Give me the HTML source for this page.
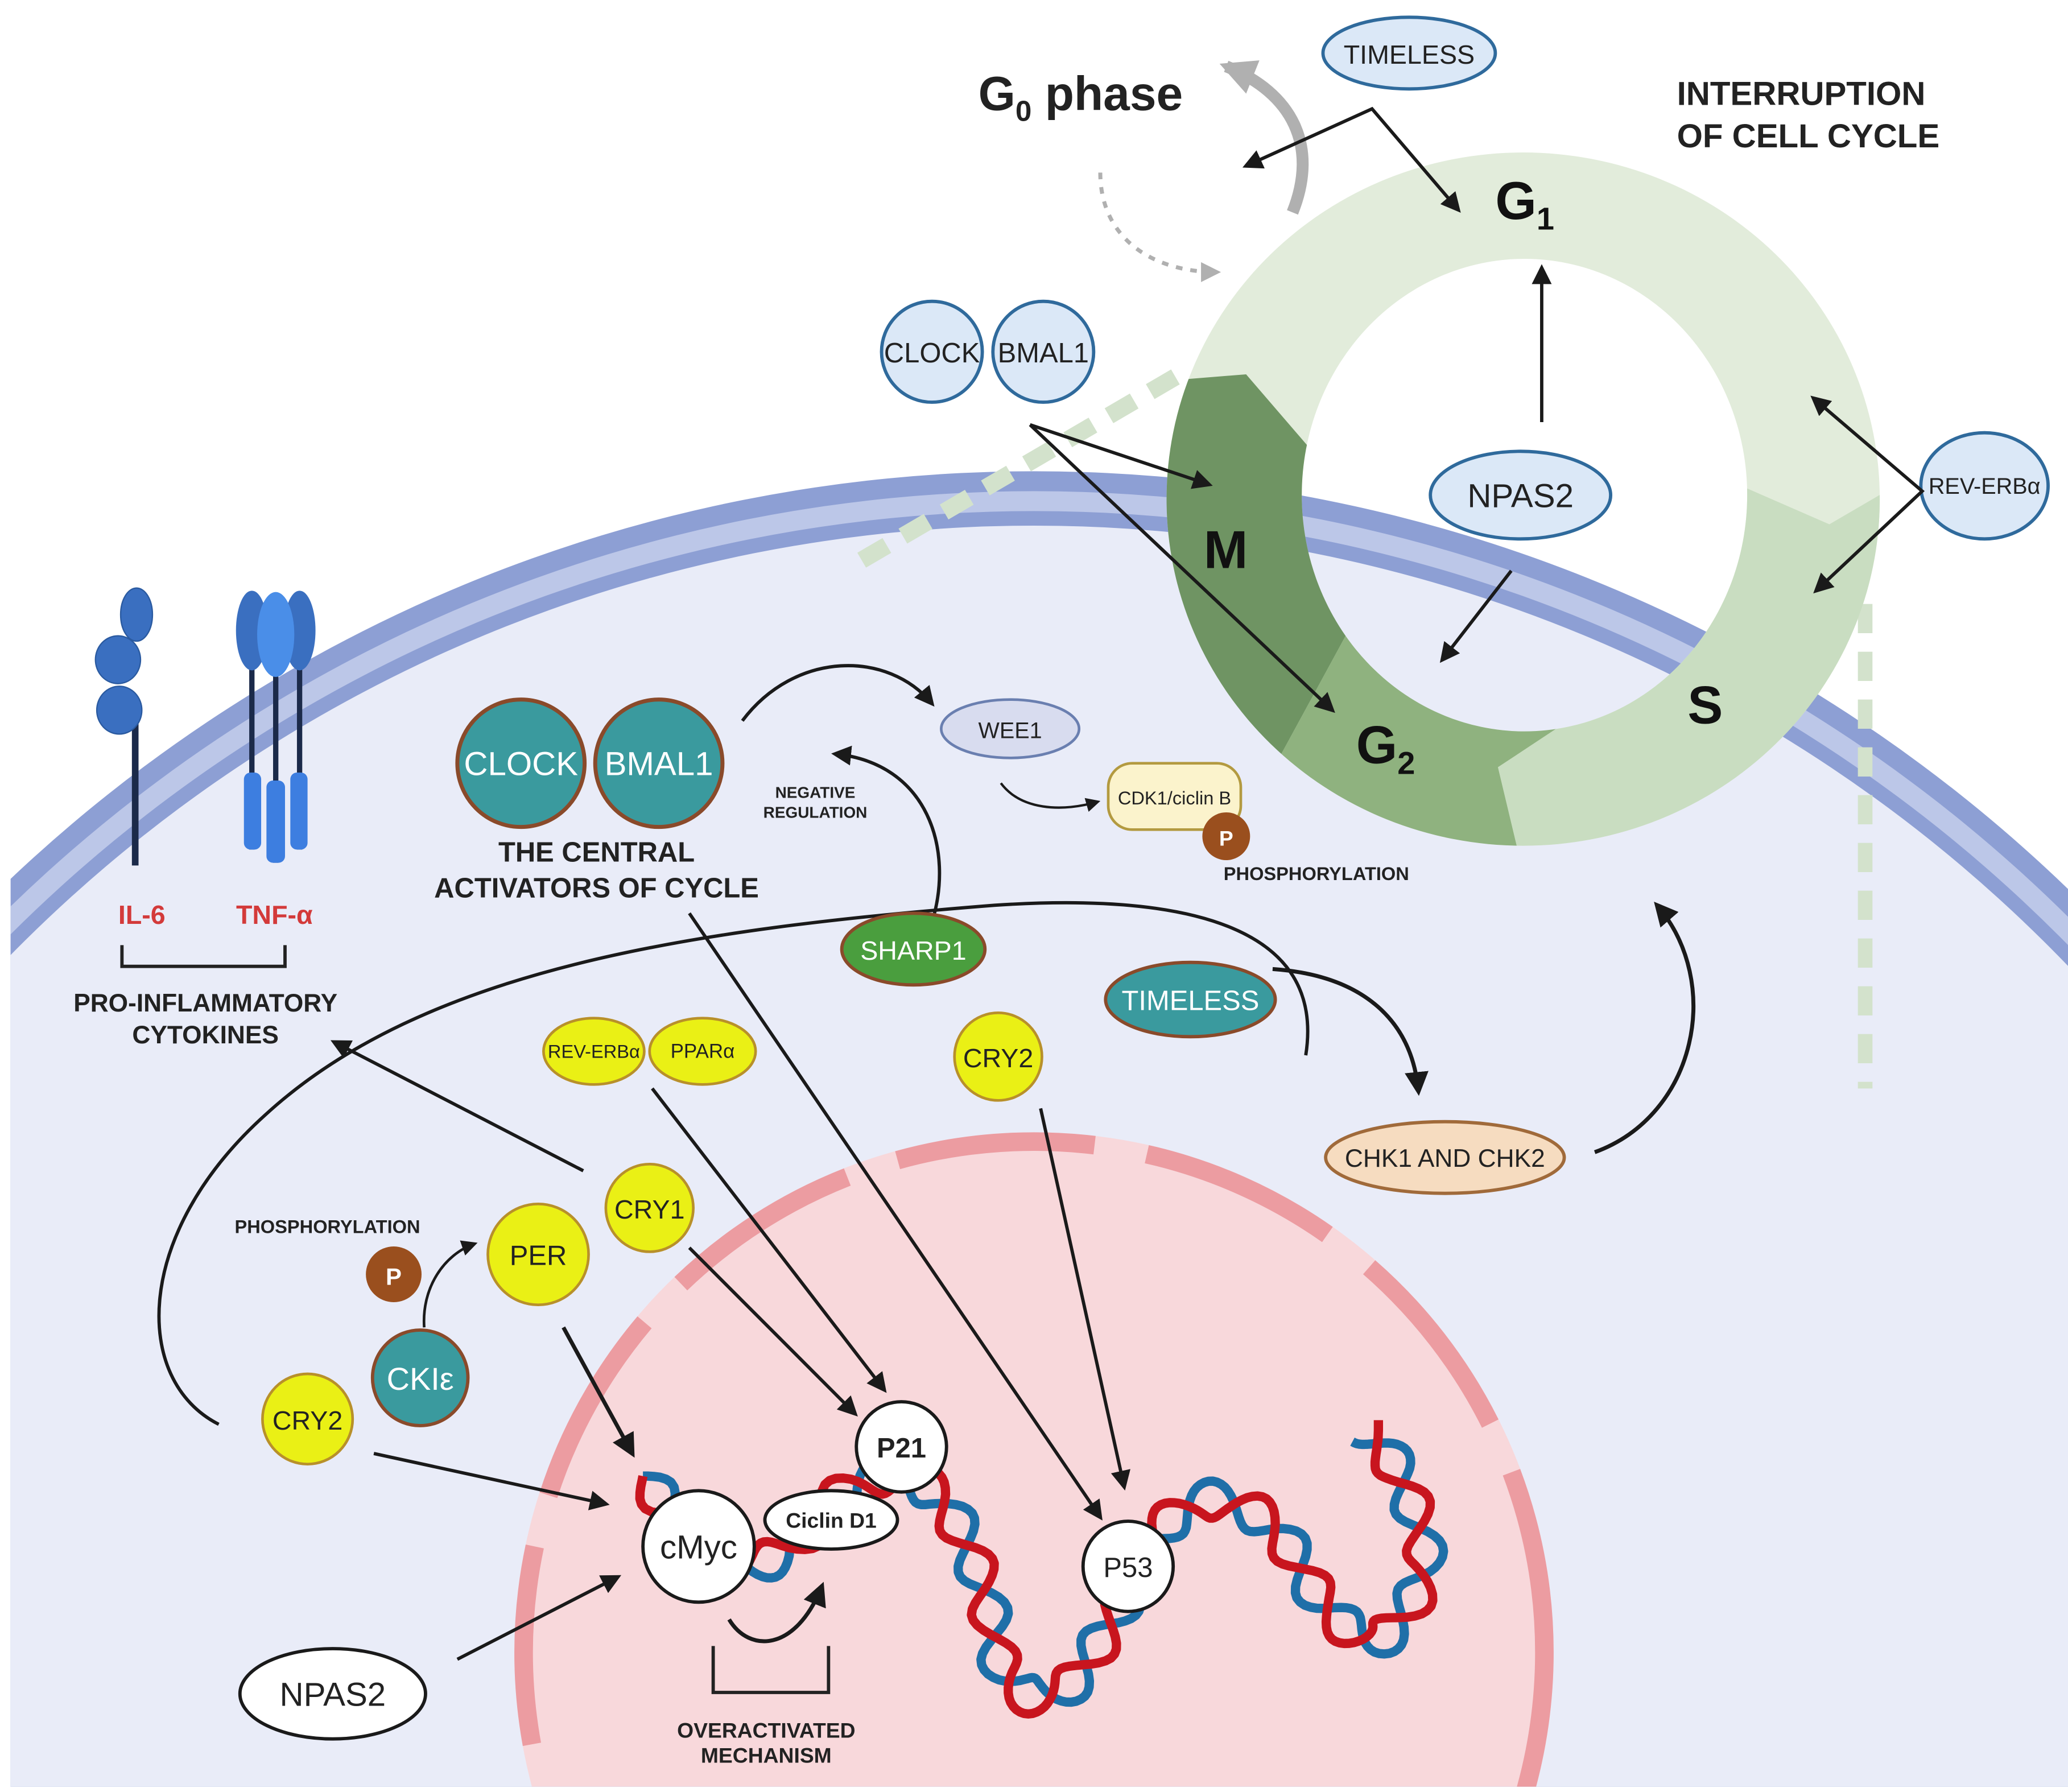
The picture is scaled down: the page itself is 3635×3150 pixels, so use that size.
<!DOCTYPE html>
<html><head><meta charset="utf-8"><style>
html,body{margin:0;padding:0;background:#fff;width:3635px;height:3150px;overflow:hidden;}
svg{display:block;}
text{font-family:"Liberation Sans",sans-serif;}
</style></head><body>
<svg id="s" width="3635" height="3150" viewBox="0 0 1560 1350" preserveAspectRatio="none" xmlns="http://www.w3.org/2000/svg">
<defs>
<marker id="a" viewBox="0 0 10 10" refX="8" refY="5" markerWidth="6" markerHeight="6" orient="auto-start-reverse"><path d="M0,0 L10,5 L0,10 z" fill="#1a1a1a"/></marker>
<marker id="ag" viewBox="0 0 10 10" refX="8" refY="5" markerWidth="3" markerHeight="3" orient="auto"><path d="M0,0 L10,5 L0,10 z" fill="#b0b0b0"/></marker>
<marker id="ag2" viewBox="0 0 10 10" refX="8" refY="5" markerWidth="5" markerHeight="5" orient="auto"><path d="M0,0 L10,5 L0,10 z" fill="#b0b0b0"/></marker>
<clipPath id="ring"><path clip-rule="evenodd" d="M880,376 a269,261 0 1,0 538,0 a269,261 0 1,0 -538,0 Z M982,373 a168,178 0 1,0 336,0 a168,178 0 1,0 -336,0 Z"/></clipPath>
<clipPath id="pg"><rect x="8" y="0" width="1552" height="1346"/></clipPath>
</defs>
<rect width="1560" height="1350" fill="#fff"/>
<g clip-path="url(#pg)">
<circle cx="780" cy="1479" r="1124" fill="#8d9fd4"/>
<circle cx="780" cy="1479" r="1109" fill="#bcc7e8"/>
<circle cx="780" cy="1479" r="1094" fill="#8d9fd4"/>
<circle cx="780" cy="1479" r="1083" fill="#e9ecf8"/>
<circle cx="780" cy="1245" r="392" fill="#f8d8db"/>
<circle cx="780" cy="1245" r="385" fill="none" stroke="#ec9ca1" stroke-width="14" stroke-dasharray="150,40"/>
</g>
<line x1="650" y1="422" x2="890" y2="282" stroke="#d3e2cc" stroke-width="13" stroke-dasharray="22,14"/>
<line x1="1407" y1="455" x2="1407" y2="820" stroke="#d3e2cc" stroke-width="11" stroke-dasharray="22,14"/>
<g clip-path="url(#ring)">
<rect x="870" y="100" width="560" height="560" fill="#e2ecdb"/>
<polygon points="840,290 940,282 990,340 1020,470 960,580 840,620" fill="#6f9463"/>
<polygon points="960,580 1020,470 1110,470 1180,545 1130,578 1152,670 940,670" fill="#8fb27f"/>
<polygon points="1130,578 1180,545 1300,385 1318,368 1380,395 1440,360 1440,670 1152,670" fill="#c9ddc1"/>
</g>
<text x="738" y="83" font-size="36" font-weight="bold" fill="#222">G<tspan font-size="22" dy="8">0</tspan><tspan dy="-8"> phase</tspan></text>
<path d="M975,160 C995,110 975,70 925,50" fill="none" stroke="#b0b0b0" stroke-width="9" marker-end="url(#ag)"/>
<path d="M830,130 C830,180 870,205 918,205" fill="none" stroke="#b0b0b0" stroke-width="3" stroke-dasharray="5,6" marker-end="url(#ag2)"/>
<ellipse cx="1063" cy="40" rx="65" ry="27" fill="#dbe8f7" stroke="#2f6a9c" stroke-width="2.5"/>
<text x="1063" y="48" font-size="20" text-anchor="middle" fill="#222">TIMELESS</text>
<path d="M940,125 L1035,82 L1100,158" fill="none" stroke="#1a1a1a" stroke-width="2.5" marker-start="url(#a)" marker-end="url(#a)"/>
<text x="1265" y="79" font-size="25" font-weight="bold" fill="#222">INTERRUPTION</text>
<text x="1265" y="111" font-size="25" font-weight="bold" fill="#222">OF CELL CYCLE</text>
<text x="1128" y="165" font-size="40" font-weight="bold" fill="#111">G<tspan font-size="24" dy="8">1</tspan></text>
<text x="908" y="428" font-size="40" font-weight="bold" fill="#111">M</text>
<text x="1023" y="575" font-size="40" font-weight="bold" fill="#111">G<tspan font-size="24" dy="8">2</tspan></text>
<text x="1273" y="545" font-size="40" font-weight="bold" fill="#111">S</text>
<circle cx="703" cy="265" r="38" fill="#dbe8f7" stroke="#2f6a9c" stroke-width="2.5"/>
<circle cx="787" cy="265" r="38" fill="#dbe8f7" stroke="#2f6a9c" stroke-width="2.5"/>
<text x="703" y="273" font-size="21" text-anchor="middle" fill="#222">CLOCK</text>
<text x="787" y="273" font-size="21" text-anchor="middle" fill="#222">BMAL1</text>
<line x1="777" y1="320" x2="912" y2="365" stroke="#1a1a1a" stroke-width="2.5" marker-end="url(#a)"/>
<line x1="777" y1="320" x2="1005" y2="535" stroke="#1a1a1a" stroke-width="2.5" marker-end="url(#a)"/>
<ellipse cx="1147" cy="373" rx="68" ry="33" fill="#dbe8f7" stroke="#2f6a9c" stroke-width="2.5"/>
<text x="1147" y="382" font-size="25" text-anchor="middle" fill="#222">NPAS2</text>
<line x1="1163" y1="318" x2="1163" y2="202" stroke="#1a1a1a" stroke-width="2.5" marker-end="url(#a)"/>
<line x1="1140" y1="430" x2="1088" y2="497" stroke="#1a1a1a" stroke-width="2.5" marker-end="url(#a)"/>
<ellipse cx="1497" cy="366" rx="48" ry="40" fill="#dbe8f7" stroke="#2f6a9c" stroke-width="2.5"/>
<text x="1497" y="372" font-size="17" text-anchor="middle" fill="#222">REV-ERBα</text>
<path d="M1368,300 L1450,370 L1370,445" fill="none" stroke="#1a1a1a" stroke-width="2.5" marker-start="url(#a)" marker-end="url(#a)"/>
<line x1="102" y1="540" x2="102" y2="652" stroke="#1b2a4a" stroke-width="5"/>
<ellipse cx="103" cy="463" rx="12" ry="20" fill="#3a6fc0" stroke="#2a5aa0"/>
<ellipse cx="89" cy="497" rx="17" ry="18" fill="#3a6fc0" stroke="#2a5aa0"/>
<ellipse cx="90" cy="535" rx="17" ry="18" fill="#3a6fc0" stroke="#2a5aa0"/>
<line x1="190" y1="490" x2="190" y2="640" stroke="#1b2a4a" stroke-width="4"/>
<line x1="208" y1="490" x2="208" y2="650" stroke="#1b2a4a" stroke-width="4"/>
<line x1="226" y1="490" x2="226" y2="640" stroke="#1b2a4a" stroke-width="4"/>
<rect x="184" y="582" width="13" height="58" rx="5" fill="#3d7ee0"/>
<rect x="201" y="588" width="14" height="62" rx="5" fill="#3d7ee0"/>
<rect x="219" y="582" width="13" height="58" rx="5" fill="#3d7ee0"/>
<ellipse cx="190" cy="475" rx="12" ry="30" fill="#3a6fc0"/>
<ellipse cx="226" cy="475" rx="12" ry="30" fill="#3a6fc0"/>
<ellipse cx="208" cy="478" rx="14" ry="32" fill="#4a8ee8"/>
<text x="107" y="696" font-size="20" font-weight="bold" fill="#d33a3a" text-anchor="middle">IL-6</text>
<text x="207" y="696" font-size="20" font-weight="bold" fill="#d33a3a" text-anchor="middle">TNF-α</text>
<path d="M92,712 V728 H215 V712" fill="none" stroke="#222" stroke-width="2.5"/>
<text x="155" y="762" font-size="19" font-weight="bold" fill="#222" text-anchor="middle">PRO-INFLAMMATORY</text>
<text x="155" y="786" font-size="19" font-weight="bold" fill="#222" text-anchor="middle">CYTOKINES</text>
<circle cx="393" cy="575" r="48" fill="#3a9a9e" stroke="#8a4a2a" stroke-width="3"/>
<circle cx="497" cy="575" r="48" fill="#3a9a9e" stroke="#8a4a2a" stroke-width="3"/>
<text x="393" y="584" font-size="25" fill="#fff" text-anchor="middle">CLOCK</text>
<text x="497" y="584" font-size="25" fill="#fff" text-anchor="middle">BMAL1</text>
<text x="450" y="649" font-size="21" font-weight="bold" fill="#222" text-anchor="middle">THE CENTRAL</text>
<text x="450" y="676" font-size="21" font-weight="bold" fill="#222" text-anchor="middle">ACTIVATORS OF CYCLE</text>
<path d="M560,543 C600,490 670,490 703,530" fill="none" stroke="#1a1a1a" stroke-width="2.5" marker-end="url(#a)"/>
<ellipse cx="762" cy="549" rx="52" ry="22" fill="#d8dcef" stroke="#6a7fb0" stroke-width="2"/>
<text x="762" y="556" font-size="17" fill="#222" text-anchor="middle">WEE1</text>
<path d="M755,590 C770,610 800,612 828,604" fill="none" stroke="#1a1a1a" stroke-width="1.8" marker-end="url(#a)"/>
<rect x="836" y="575" width="100" height="50" rx="18" fill="#fbf3cc" stroke="#b39a40" stroke-width="2"/>
<text x="886" y="606" font-size="14" fill="#222" text-anchor="middle">CDK1/ciclin B</text>
<circle cx="925" cy="630" r="18" fill="#9a4f1e"/>
<text x="925" y="637" font-size="16" font-weight="bold" fill="#fff" text-anchor="middle">P</text>
<text x="993" y="663" font-size="14" font-weight="bold" fill="#222" text-anchor="middle">PHOSPHORYLATION</text>
<text x="615" y="601" font-size="12" font-weight="bold" fill="#222" text-anchor="middle">NEGATIVE</text>
<text x="615" y="616" font-size="12" font-weight="bold" fill="#222" text-anchor="middle">REGULATION</text>
<path d="M703,695 C720,640 700,575 630,568" fill="none" stroke="#1a1a1a" stroke-width="2.5" marker-end="url(#a)"/>
<path d="M165,1073 C100,1040 100,930 200,840 C320,730 520,700 750,682 C900,672 1000,700 985,795" fill="none" stroke="#1a1a1a" stroke-width="2.5"/>
<ellipse cx="689" cy="715" rx="54" ry="27" fill="#4a9e3e" stroke="#8a4a2a" stroke-width="2.5"/>
<text x="689" y="723" font-size="20" fill="#fff" text-anchor="middle">SHARP1</text>
<ellipse cx="898" cy="753" rx="64" ry="28" fill="#3a9a9e" stroke="#8a4a2a" stroke-width="2.5"/>
<text x="898" y="761" font-size="21" fill="#fff" text-anchor="middle">TIMELESS</text>
<path d="M960,730 C1030,735 1065,770 1070,822" fill="none" stroke="#1a1a1a" stroke-width="3" marker-end="url(#a)"/>
<ellipse cx="1090" cy="872" rx="90" ry="27" fill="#f6dcc0" stroke="#a06a3a" stroke-width="2.5"/>
<text x="1090" y="879" font-size="19" fill="#222" text-anchor="middle">CHK1 AND CHK2</text>
<path d="M1203,868 C1280,840 1300,740 1250,682" fill="none" stroke="#1a1a1a" stroke-width="3" marker-end="url(#a)"/>
<line x1="492" y1="820" x2="667" y2="1047" stroke="#1a1a1a" stroke-width="2.5" marker-end="url(#a)"/>
<line x1="520" y1="688" x2="830" y2="1143" stroke="#1a1a1a" stroke-width="2.5" marker-end="url(#a)"/>
<line x1="785" y1="835" x2="848" y2="1120" stroke="#1a1a1a" stroke-width="2.5" marker-end="url(#a)"/>
<line x1="440" y1="882" x2="252" y2="785" stroke="#1a1a1a" stroke-width="2.5" marker-end="url(#a)"/>
<line x1="520" y1="940" x2="645" y2="1065" stroke="#1a1a1a" stroke-width="2.5" marker-end="url(#a)"/>
<line x1="425" y1="1000" x2="477" y2="1095" stroke="#1a1a1a" stroke-width="3" marker-end="url(#a)"/>
<line x1="282" y1="1095" x2="457" y2="1133" stroke="#1a1a1a" stroke-width="2.5" marker-end="url(#a)"/>
<line x1="345" y1="1250" x2="466" y2="1188" stroke="#1a1a1a" stroke-width="2.5" marker-end="url(#a)"/>
<path d="M320,1000 C318,970 335,945 358,937" fill="none" stroke="#1a1a1a" stroke-width="2" marker-end="url(#a)"/>
<ellipse cx="448" cy="792" rx="38" ry="25" fill="#eaf015" stroke="#b8902a" stroke-width="2"/>
<ellipse cx="530" cy="792" rx="40" ry="25" fill="#eaf015" stroke="#b8902a" stroke-width="2"/>
<text x="448" y="797" font-size="14" fill="#222" text-anchor="middle">REV-ERBα</text>
<text x="530" y="797" font-size="15" fill="#222" text-anchor="middle">PPARα</text>
<circle cx="753" cy="796" r="33" fill="#eaf015" stroke="#b8902a" stroke-width="2"/>
<text x="753" y="804" font-size="20" fill="#222" text-anchor="middle">CRY2</text>
<circle cx="490" cy="910" r="33" fill="#eaf015" stroke="#b8902a" stroke-width="2"/>
<text x="490" y="918" font-size="20" fill="#222" text-anchor="middle">CRY1</text>
<circle cx="406" cy="945" r="38" fill="#eaf015" stroke="#b8902a" stroke-width="2"/>
<text x="406" y="953" font-size="21" fill="#222" text-anchor="middle">PER</text>
<text x="247" y="929" font-size="14" font-weight="bold" fill="#222" text-anchor="middle">PHOSPHORYLATION</text>
<circle cx="297" cy="960" r="21" fill="#9a4f1e"/>
<text x="297" y="968" font-size="18" font-weight="bold" fill="#fff" text-anchor="middle">P</text>
<circle cx="317" cy="1038" r="36" fill="#3a9a9e" stroke="#8a4a2a" stroke-width="2.5"/>
<text x="317" y="1047" font-size="24" fill="#fff" text-anchor="middle">CKIε</text>
<circle cx="232" cy="1069" r="34" fill="#eaf015" stroke="#b8902a" stroke-width="2"/>
<text x="232" y="1077" font-size="20" fill="#222" text-anchor="middle">CRY2</text>
<ellipse cx="251" cy="1276" rx="70" ry="34" fill="#fff" stroke="#1a1a1a" stroke-width="2.5"/>
<text x="251" y="1285" font-size="25" fill="#222" text-anchor="middle">NPAS2</text>
<g id="dna"></g>
<circle cx="527" cy="1165" r="42" fill="#fff" stroke="#1a1a1a" stroke-width="2.5"/>
<text x="527" y="1174" font-size="25" fill="#222" text-anchor="middle">cMyc</text>
<ellipse cx="627" cy="1145" rx="50" ry="22" fill="#fff" stroke="#1a1a1a" stroke-width="2.5"/>
<text x="627" y="1151" font-size="16" font-weight="bold" fill="#222" text-anchor="middle">Ciclin D1</text>
<circle cx="680" cy="1090" r="34" fill="#fff" stroke="#1a1a1a" stroke-width="2.5"/>
<text x="680" y="1098" font-size="21" font-weight="bold" fill="#222" text-anchor="middle">P21</text>
<circle cx="851" cy="1180" r="34" fill="#fff" stroke="#1a1a1a" stroke-width="2.5"/>
<text x="851" y="1188" font-size="21" fill="#222" text-anchor="middle">P53</text>
<path d="M550,1220 C565,1245 600,1245 620,1195" fill="none" stroke="#1a1a1a" stroke-width="3" marker-end="url(#a)"/>
<path d="M538,1240 V1275 H625 V1240" fill="none" stroke="#222" stroke-width="2.5"/>
<text x="578" y="1309" font-size="16" font-weight="bold" fill="#222" text-anchor="middle">OVERACTIVATED</text>
<text x="578" y="1328" font-size="16" font-weight="bold" fill="#222" text-anchor="middle">MECHANISM</text>
</svg>
<script>
(function(){
var P=[[485,1112],[540,1175],[590,1170],[650,1115],[705,1125],[740,1190],[760,1265],[800,1275],[840,1220],[870,1160],[910,1130],[960,1150],[1000,1210],[1040,1235],[1075,1180],[1055,1110],[1030,1078]];
function cr(p0,p1,p2,p3,t){var t2=t*t,t3=t2*t;return [0.5*((2*p1[0])+(-p0[0]+p2[0])*t+(2*p0[0]-5*p1[0]+4*p2[0]-p3[0])*t2+(-p0[0]+3*p1[0]-3*p2[0]+p3[0])*t3),0.5*((2*p1[1])+(-p0[1]+p2[1])*t+(2*p0[1]-5*p1[1]+4*p2[1]-p3[1])*t2+(-p0[1]+3*p1[1]-3*p2[1]+p3[1])*t3)];}
var S=[];for(var i=0;i<P.length-1;i++){var p0=P[Math.max(0,i-1)],p1=P[i],p2=P[i+1],p3=P[Math.min(P.length-1,i+2)];for(var k=0;k<20;k++)S.push(cr(p0,p1,p2,p3,k/20));}S.push(P[P.length-1]);
var L=0,a=[],b=[];for(var j=0;j<S.length;j++){if(j>0)L+=Math.hypot(S[j][0]-S[j-1][0],S[j][1]-S[j-1][1]);var q=S[Math.min(j+1,S.length-1)],r=S[Math.max(j-1,0)];var dx=q[0]-r[0],dy=q[1]-r[1],d=Math.hypot(dx,dy)||1;var nx=-dy/d,ny=dx/d;var o=14*Math.sin(L/72*2*Math.PI);a.push((S[j][0]+nx*o).toFixed(1)+","+(S[j][1]+ny*o).toFixed(1));b.push((S[j][0]-nx*o).toFixed(1)+","+(S[j][1]-ny*o).toFixed(1));}
var g=document.getElementById("dna");
g.innerHTML='<polyline points="'+b.join(" ")+'" fill="none" stroke="#1f6fa8" stroke-width="7" stroke-linejoin="round"/><polyline points="'+a.join(" ")+'" fill="none" stroke="#c8151e" stroke-width="7" stroke-linejoin="round"/>';
})();
</script>
</body></html>
